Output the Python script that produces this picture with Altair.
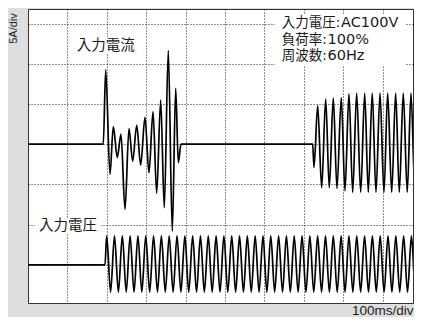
import altair as alt
import pandas as pd

# ---------------- data ----------------
# Input current trace: time (ms), current (A) at 5 A/div
cur_t = [0, 191.1, 197.2, 208.1, 216.5, 226.6, 236.0, 246.2, 256.3, 265.7, 275.9,
         286.0, 296.9, 307.1, 317.3, 326.6, 336.8, 345.9, 356.1, 366.2, 374.9,
         381.5, 388.3, 722.6, 725.9, 735.3, 745.4, 755.6, 764.7, 774.9, 784.2,
         795.2, 804.5, 814.7, 824.1, 834.2, 844.4, 854.6, 863.7, 873.8, 883.2,
         893.4, 903.5, 912.9, 923.1, 933.2, 942.4, 952.5, 962.6, 972.1, 982.2,
         992.4, 1002.5]
cur_a = [0, 0, 9.25, -3.75, 2.2, -1.65, 1.25, -8.1, 1.95, -2.1, 2.35,
         -2.6, 3.35, -3.55, 4.05, -6.1, 5.5, -7.9, 11.65, -10.8, 6.95,
         -2.3, 0, 0, -2.9, 4.8, -5.4, 5.6, -5.4, 5.75, -5.5,
         5.8, -5.8, 6.25, -6.0, 6.35, -6.0, 6.35, -6.0, 6.35, -6.0,
         6.35, -6.0, 6.35, -6.0, 6.35, -6.0, 6.35, -6.0, 6.35, -6.0,
         6.35, -6.0]

# Input voltage trace: crest / trough times (ms), in divisions
volt_start = [0, 195.4]
volt_peak_t = [199.7, 219.5, 239.4, 259.2, 279.0, 298.9, 318.7, 338.5, 358.4, 378.2,
               398.1, 417.9, 437.7, 457.6, 477.4, 497.2, 517.1, 536.9, 556.7, 576.6,
               596.4, 616.2, 636.1, 655.9, 675.7, 695.6, 715.4, 735.2, 755.1, 774.9,
               794.8, 814.6, 834.4, 854.3, 874.1, 893.9, 913.8, 933.6, 953.4, 973.3,
               993.1]
volt_trough_t = [209.6, 229.4, 249.3, 269.1, 288.9, 308.8, 328.6, 348.4, 368.3, 388.1,
                 408.0, 427.8, 447.6, 467.5, 487.3, 507.1, 527.0, 546.8, 566.6, 586.5,
                 606.3, 626.1, 646.0, 665.8, 685.6, 705.5, 725.3, 745.1, 765.0, 784.8,
                 804.7, 824.5, 844.3, 864.2, 884.0, 903.8, 923.7, 943.5, 963.3, 983.2,
                 1003.0]
VOLT_PEAK = 0.72
VOLT_TROUGH = -0.68

# trace baselines (in divisions from the bottom)
CUR_BASE = 4
VOLT_BASE = 1
A_PER_DIV = 5

# annotations
ann_text = ["入力電流", "入力電圧", "入力電圧:", "AC100V", "負荷率:", "100%",
            "周波数:", "60Hz"]
ann_t = [123.6, 27.9, 643.9, 794.4, 643.9, 760.1, 643.9, 760.1]
ann_y = [6.455, 1.953, 7.027, 7.027, 6.602, 6.602, 6.182, 6.182]
ann_size = [14.5, 14.5, 13.5, 14.5, 13.5, 14.5, 13.5, 14.5]

# white label backgrounds
mask_t = [114.2, 17.8, 626.9]
mask_t2 = [281.7, 185.3, 959.4]
mask_y = [6.244, 1.791, 5.945]
mask_y2 = [6.667, 2.139, 7.239]

x_grid = [100, 200, 300, 400, 500, 600, 700, 800, 900]
y_grid = [1, 2, 3, 4, 5, 6, 7]

# ---------------- tables ----------------
cur_df = pd.DataFrame({"t": cur_t, "y": [CUR_BASE + a / A_PER_DIV for a in cur_a]})

vt, vy = list(volt_start), [VOLT_BASE, VOLT_BASE]
for p, q in zip(volt_peak_t, volt_trough_t):
    vt += [p, q]
    vy += [VOLT_BASE + VOLT_PEAK, VOLT_BASE + VOLT_TROUGH]
volt_df = pd.DataFrame({"t": vt, "y": vy})

ann_df = pd.DataFrame({"t": ann_t, "y": ann_y, "label": ann_text, "fs": ann_size})
mask_df = pd.DataFrame({"t": mask_t, "t2": mask_t2, "y": mask_y, "y2": mask_y2})

FONT = "Liberation Sans, Noto Sans CJK JP"
FONT_INFO = "DejaVu Sans, Noto Sans CJK JP"

xscale = alt.Scale(domain=[0, 977.2], nice=False, zero=False)
yscale = alt.Scale(domain=[0.05, 7.363], nice=False, zero=False)

xaxis = alt.Axis(values=x_grid, grid=True, gridDash=[1, 2], gridColor="#222",
                 gridWidth=1, gridOpacity=1, ticks=False, labels=False, domain=False,
                 title="100ms/div", titleFont=FONT, titleFontSize=13.5,
                 titleFontWeight="normal", titleColor="#1a1a1a",
                 titleAlign="right", titleAnchor="end", titleX=385, titleY=11,
                 titleBaseline="alphabetic")
yaxis = alt.Axis(values=y_grid, grid=True, gridDash=[1, 2], gridColor="#222",
                 gridWidth=1, gridOpacity=1, ticks=False, labels=False, domain=False,
                 title="5A/div", titleFont=FONT, titleFontSize=11,
                 titleFontWeight="normal", titleColor="#1a1a1a",
                 titleAngle=270, titleAlign="center", titleBaseline="middle",
                 titleX=-14.3, titleY=19)

X = alt.X("t:Q", scale=xscale, axis=xaxis)
Y = alt.Y("y:Q", scale=yscale, axis=yaxis)

masks = alt.Chart(mask_df).mark_rect(color="white", opacity=1).encode(
    x=X, x2="t2:Q", y=Y, y2="y2:Q")

volt = alt.Chart(volt_df).mark_line(color="#000", strokeWidth=1.7,
                                    interpolate="monotone", clip=True).encode(
    x=X, y=Y, order="t:Q")

cur = alt.Chart(cur_df).mark_line(color="#000", strokeWidth=1.7,
                                  interpolate="monotone", clip=True).encode(
    x=X, y=Y, order="t:Q")

labels = alt.Chart(ann_df.iloc[:2]).mark_text(
    align="left", baseline="middle", font=FONT, color="#1a1a1a").encode(
    x=X, y=Y, text="label:N", size=alt.Size("fs:Q", scale=None))

info = alt.Chart(ann_df.iloc[2:]).mark_text(
    align="left", baseline="middle", font=FONT_INFO, color="#1a1a1a").encode(
    x=X, y=Y, text="label:N", size=alt.Size("fs:Q", scale=None))

chart = alt.layer(masks, volt, cur, labels, info).properties(
    width=385, height=294,
    autosize=alt.AutoSizeParams(type="none"),
    padding={"left": 20, "top": 1, "right": 1, "bottom": 14},
    background="#dedede",
).configure_view(stroke="#333", strokeWidth=1, fill="white")

chart.save("out.html", embed_options={"renderer": "svg", "actions": False})
